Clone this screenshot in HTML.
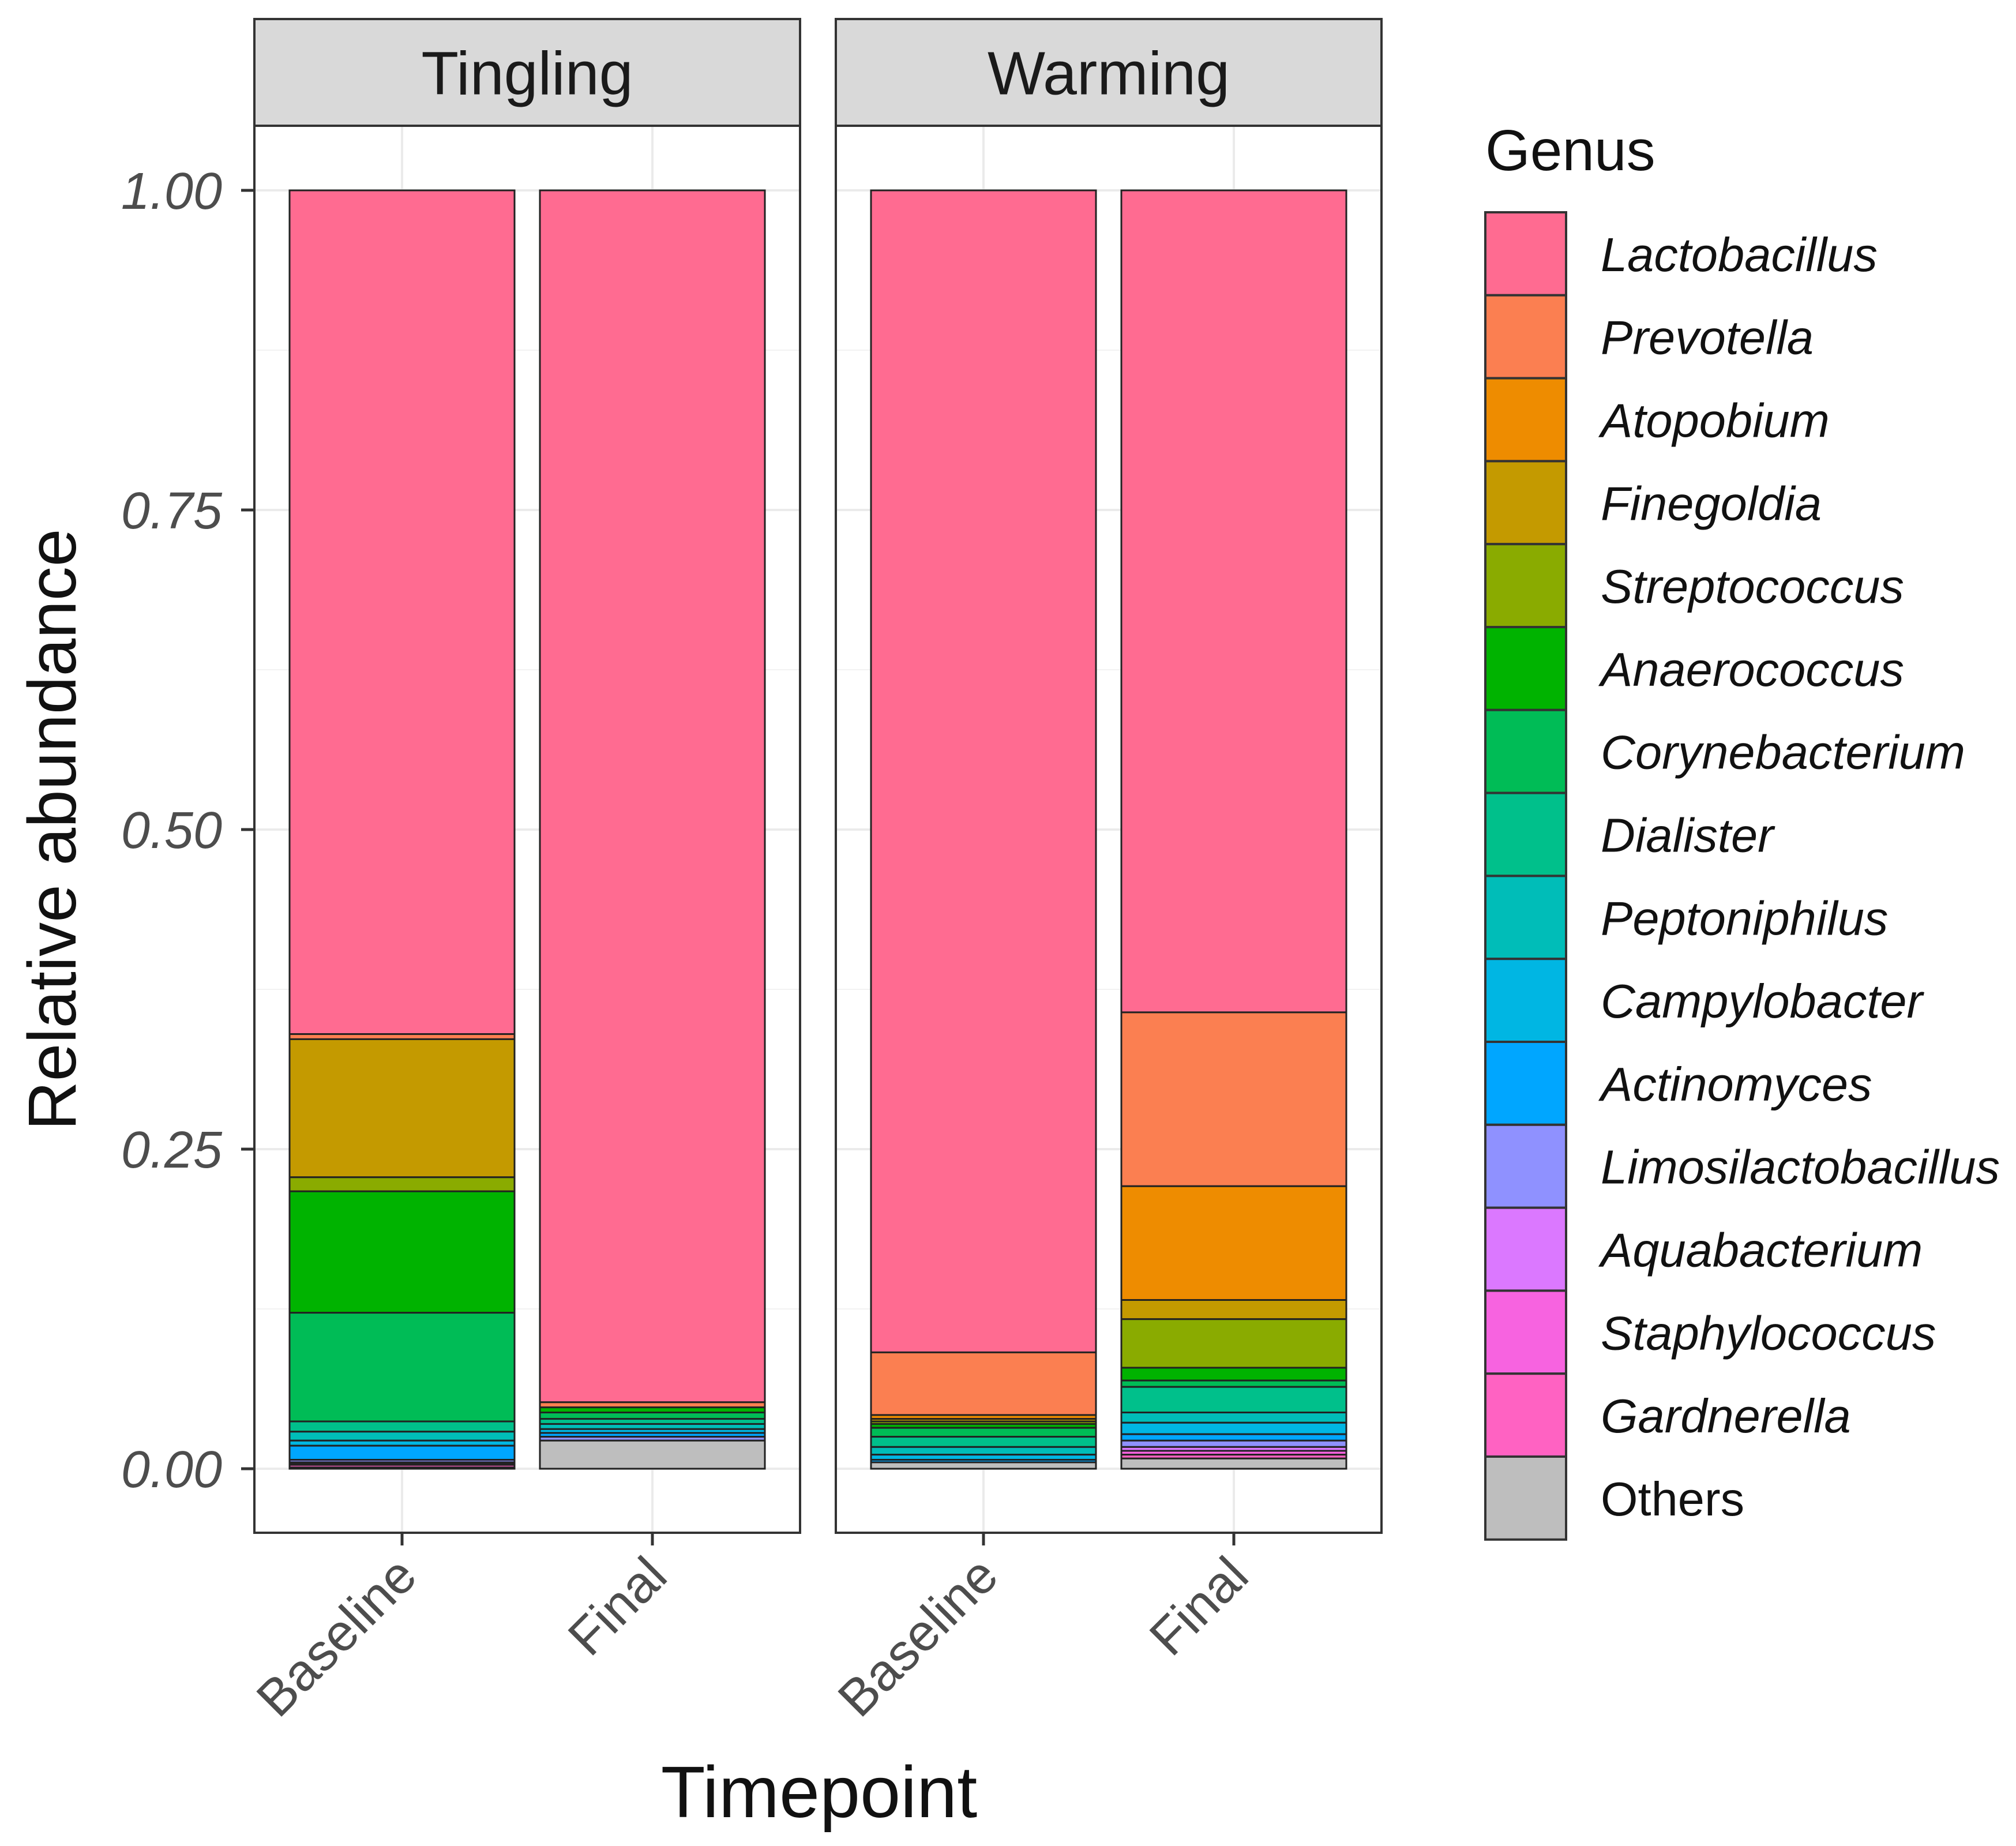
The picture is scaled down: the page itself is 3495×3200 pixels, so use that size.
<!DOCTYPE html>
<html><head><meta charset="utf-8">
<style>
html,body{margin:0;padding:0;background:#fff;}
svg{display:block;font-family:"Liberation Sans","DejaVu Sans",sans-serif;}
</style></head>
<body>
<svg id="chart" width="3495" height="3200" viewBox="0 0 3495 3200" xmlns="http://www.w3.org/2000/svg">
<g id="panels"></g>
<g id="legend"></g>
<text x="100" y="1438" transform="rotate(-90 100 1438)" text-anchor="middle" dominant-baseline="middle" font-size="118" fill="#111">Relative abundance</text>
<text x="1420" y="3150" text-anchor="middle" font-size="126" fill="#111">Timepoint</text>
</svg>
<script>
const genera = ["Lactobacillus","Prevotella","Atopobium","Finegoldia","Streptococcus","Anaerococcus","Corynebacterium","Dialister","Peptoniphilus","Campylobacter","Actinomyces","Limosilactobacillus","Aquabacterium","Staphylococcus","Gardnerella","Others"];
const genusColors = ["#FF6B91","#FB7F51","#EE8C00","#C49A00","#8AAB00","#00B300","#00BC56","#00C08B","#00BDB8","#00B6E3","#00A6FF","#8F91FF","#DB78FF","#F763E0","#FF62C2","#BEBEBE"];
const facets = ["Tingling","Warming"];
const timepoints = ["Baseline","Final"];
const tinglingBaseline = [0.660,0.004,0.000,0.108,0.011,0.095,0.085,0.008,0.007,0.004,0.011,0.002,0.001,0.001,0.002,0.001];
const tinglingFinal    = [0.948,0.004,0.000,0.000,0.000,0.004,0.005,0.004,0.004,0.003,0.003,0.003,0.000,0.000,0.000,0.022];
const warmingBaseline  = [0.909,0.049,0.003,0.002,0.002,0.003,0.007,0.008,0.006,0.004,0.002,0.000,0.000,0.000,0.000,0.005];
const warmingFinal     = [0.643,0.136,0.089,0.015,0.038,0.010,0.005,0.020,0.008,0.009,0.005,0.005,0.003,0.003,0.003,0.008];
const yTicks = [0,0.25,0.5,0.75,1];
const yTickLabels = ["0.00","0.25","0.50","0.75","1.00"];

const NS="http://www.w3.org/2000/svg";
function mk(tag, attrs, parent){const e=document.createElementNS(NS,tag);for(const k in attrs)e.setAttribute(k,attrs[k]);parent.appendChild(e);return e;}
const y0=2546, y1=330;
function yScale(v){return y0-(y0-y1)*v;}
const panelX=[441,1449], panelW=946, stripTop=33, stripBot=218, panelBot=2657;
function xScale(panelIdx, tpIdx){return panelX[panelIdx]+ (tpIdx===0?256:690);}
const barW=390;
const series=[[tinglingBaseline,tinglingFinal],[warmingBaseline,warmingFinal]];
const panels=document.getElementById('panels');

facets.forEach((f,pi)=>{
  const g=mk('g',{},panels);
  
  
  const px=panelX[pi];
  const bg=mk('rect',{x:px,y:stripBot,width:panelW,height:panelBot-stripBot,fill:'#fff'},g);
  
  
  for(let i=0;i<4;i++){const v=(yTicks[i]+yTicks[i+1])/2;
    const l=mk('line',{x1:px,x2:px+panelW,y1:yScale(v),y2:yScale(v),stroke:'#F2F2F2','stroke-width':2},g);
    
    }
  yTicks.forEach(v=>{const l=mk('line',{x1:px,x2:px+panelW,y1:yScale(v),y2:yScale(v),stroke:'#EBEBEB','stroke-width':4},g);
    
    });
  timepoints.forEach((t,ti)=>{const l=mk('line',{x1:xScale(pi,ti),x2:xScale(pi,ti),y1:stripBot,y2:panelBot,stroke:'#EBEBEB','stroke-width':4},g);
    
    });
  timepoints.forEach((t,ti)=>{
    const vals=series[pi][ti];
    let cum=1;
    vals.forEach((v,gi)=>{
      if(v<=0)return;
      const top=yScale(cum), bot=yScale(cum-v);
      const r=mk('rect',{x:xScale(pi,ti)-barW/2,y:top,width:barW,height:bot-top,fill:genusColors[gi],stroke:'#222','stroke-width':3},g);
      
      
      cum-=v;
    });
    const tk=mk('line',{x1:xScale(pi,ti),x2:xScale(pi,ti),y1:panelBot,y2:panelBot+22,stroke:'#333','stroke-width':5},g);
    
    
    const tx=xScale(pi,ti)+30, ty=panelBot+80;
    const lab=mk('text',{x:tx,y:ty,'text-anchor':'end','font-size':90,fill:'#4D4D4D',transform:`rotate(-45 ${tx} ${ty})`},g);
    lab.textContent=t;
    
    
  });
  const border=mk('rect',{x:px,y:stripBot,width:panelW,height:panelBot-stripBot,fill:'none',stroke:'#333','stroke-width':4},g);
  
  
  const strip=mk('rect',{x:px,y:stripTop,width:panelW,height:stripBot-stripTop,fill:'#D9D9D9',stroke:'#333','stroke-width':4},g);
  
  
  const st=mk('text',{x:px+panelW/2,y:(stripTop+stripBot)/2+38,'text-anchor':'middle','font-size':106,fill:'#1A1A1A'},g);
  st.textContent=f;
  
  
});
yTicks.forEach((v,i)=>{
  const l=mk('line',{x1:418,x2:441,y1:yScale(v),y2:yScale(v),stroke:'#333','stroke-width':5},panels);
  
  
  const t=mk('text',{x:385,y:yScale(v)+32,'text-anchor':'end','font-size':90,'font-style':'italic',fill:'#4D4D4D'},panels);
  t.textContent=yTickLabels[i];
  
  
});
const lg=document.getElementById('legend');
const lt=mk('text',{x:2575,y:295,'font-size':100,fill:'#111'},lg);
lt.textContent='Genus';


const keyTop=368, keyH=143.8;
genera.forEach((gname,i)=>{
  const r=mk('rect',{x:2575,y:keyTop+i*keyH,width:140,height:keyH,fill:genusColors[i],stroke:'#333','stroke-width':4},lg);
  
  
  const t=mk('text',{x:2775,y:keyTop+i*keyH+keyH/2+30,'font-size':83,fill:'#111','font-style':gname==='Others'?'normal':'italic'},lg);
  t.textContent=gname;
  
  
});
</script>
</body></html>
